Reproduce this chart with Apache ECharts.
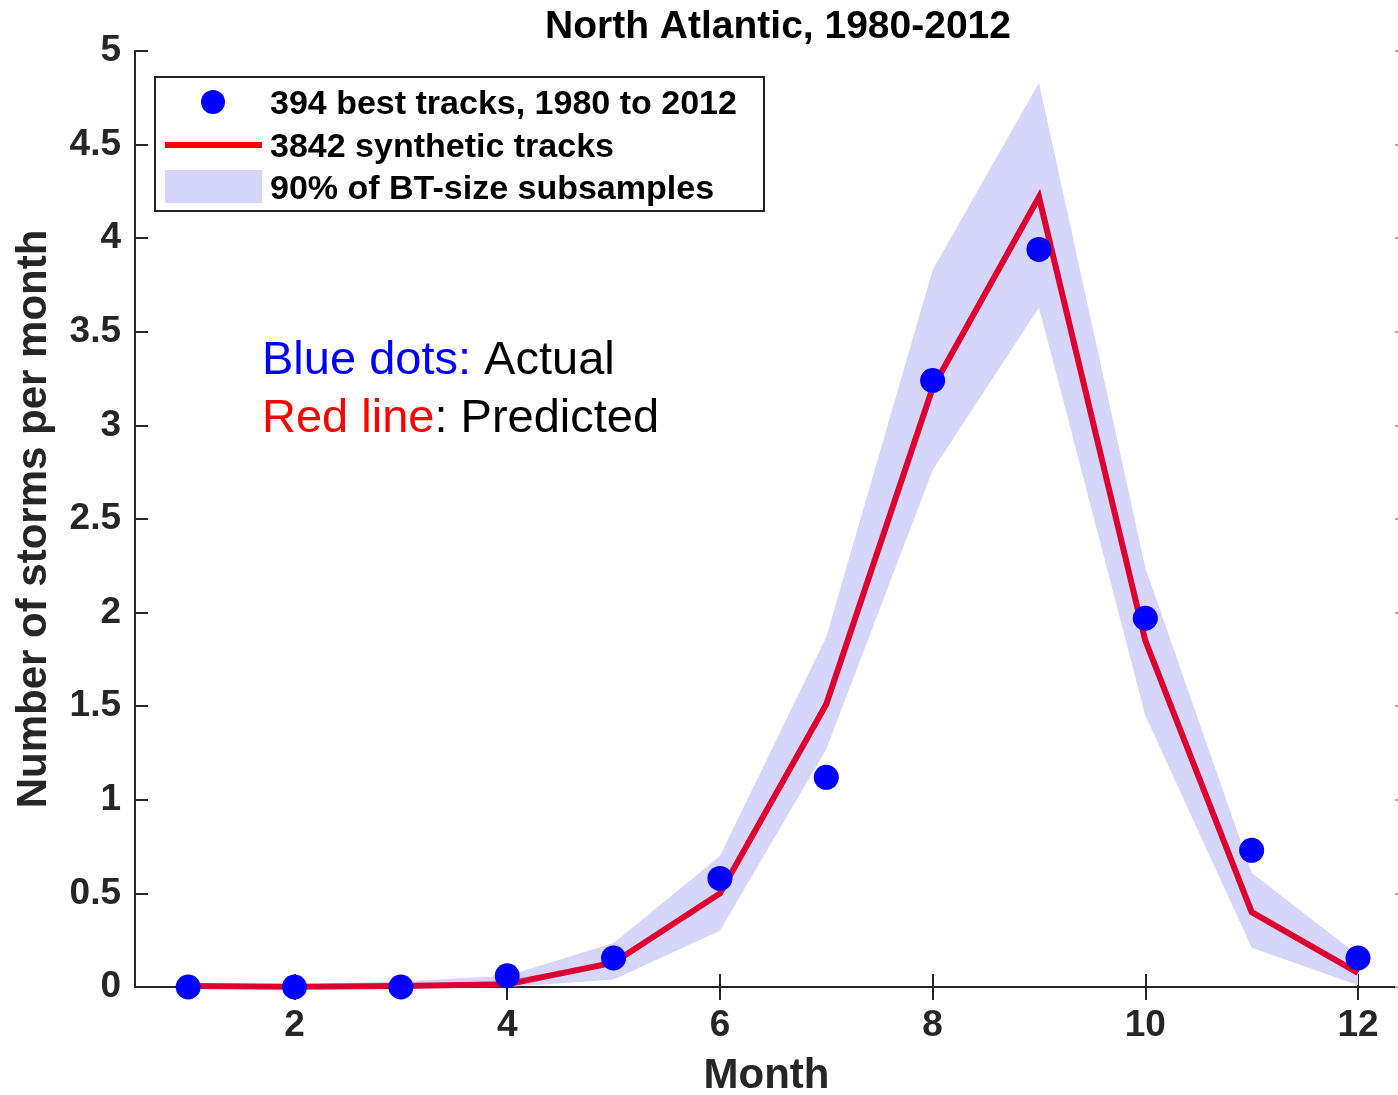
<!DOCTYPE html>
<html>
<head>
<meta charset="utf-8">
<script src="https://cdn.jsdelivr.net/npm/echarts@6/dist/echarts.min.js"></script>
<style>
html,body{margin:0;padding:0;background:#fff;}
#chart{width:1398px;height:1095px;}
</style>
</head>
<body>
<div id="chart"></div>
<script>
// ---- data ----
const months = [1, 2, 3, 4, 5, 6, 7, 8, 9, 10, 11, 12];
const bestTracks = [0, 0, 0, 0.06, 0.155, 0.58, 1.12, 3.24, 3.94, 1.97, 0.73, 0.155];
const syntheticTracks = [0.005, 0.002, 0.005, 0.015, 0.13, 0.50, 1.51, 3.20, 4.22, 1.85, 0.40, 0.075];
const bandLower = [0, 0, 0, 0, 0.04, 0.30, 1.27, 2.76, 3.63, 1.45, 0.21, 0.01];
const bandUpper = [0.015, 0.015, 0.03, 0.06, 0.235, 0.70, 1.87, 3.83, 4.83, 2.24, 0.61, 0.17];
const xTickValues = [2, 4, 6, 8, 10, 12];
const yTickValues = [0, 0.5, 1, 1.5, 2, 2.5, 3, 3.5, 4, 4.5, 5];

const titleText = 'North Atlantic, 1980-2012';
const xName = 'Month';
const yName = 'Number of storms per month';
const legendNames = ['394 best tracks, 1980 to 2012', '3842 synthetic tracks', '90% of BT-size subsamples'];

// ---- build ----
const pairs = (ys) => months.map((m, i) => [m, ys[i]]);
const bandData = months.map((m, i) => [m, bandLower[i], bandUpper[i]]);

const axisColor = '#262626';
const fontFam = '"Liberation Sans", Arial, Helvetica, sans-serif';
const tickLen = 13;
const xMin = 0.5, xMax = 12.376;

const chart = echarts.init(document.getElementById('chart'), null, {renderer: 'canvas'});

function renderBand(params, api) {
  if (params.dataIndex !== 0) return null;
  const pts = [];
  for (let i = 0; i < months.length; i++) pts.push(api.coord([months[i], bandUpper[i]]));
  for (let i = months.length - 1; i >= 0; i--) pts.push(api.coord([months[i], bandLower[i]]));
  return {
    type: 'polygon',
    shape: {points: pts},
    style: {fill: '#d6d6fa', stroke: null}
  };
}

const option = {
  backgroundColor: '#ffffff',
  animation: false,
  title: {
    text: titleText,
    left: 773,
    textAlign: 'center',
    top: 3,
    textStyle: {fontFamily: fontFam, fontWeight: 'bold', fontSize: 39, color: '#000'}
  },
  grid: {left: 135, top: 51, right: 0, bottom: 108, containLabel: false, outerBoundsMode: 'none'},
  xAxis: [
    {
      type: 'value', min: xMin, max: xMax, position: 'bottom',
      name: xName, nameLocation: 'middle', nameGap: 68,
      nameTextStyle: {fontFamily: fontFam, fontWeight: 'bold', fontSize: 42, color: axisColor},
      axisLine: {show: true, lineStyle: {color: axisColor, width: 2}},
      axisTick: {show: true, inside: true, length: tickLen, customValues: xTickValues, lineStyle: {color: axisColor, width: 2}},
      axisLabel: {show: true, customValues: xTickValues, margin: 20, fontFamily: fontFam, fontWeight: 'bold', fontSize: 37, color: axisColor},
      splitLine: {show: false}
    },
    {
      type: 'value', min: xMin, max: xMax, position: 'top',
      axisLine: {show: true, lineStyle: {color: axisColor, width: 2}},
      axisTick: {show: true, inside: true, length: tickLen, customValues: xTickValues, lineStyle: {color: axisColor, width: 2}},
      axisLabel: {show: false},
      splitLine: {show: false}
    }
  ],
  yAxis: [
    {
      type: 'value', min: 0, max: 5, interval: 0.5, position: 'left',
      name: yName, nameLocation: 'middle', nameGap: 80,
      nameTextStyle: {fontFamily: fontFam, fontWeight: 'bold', fontSize: 42, color: axisColor},
      axisLine: {show: true, lineStyle: {color: axisColor, width: 2}},
      axisTick: {show: true, inside: true, length: tickLen, lineStyle: {color: axisColor, width: 2}},
      axisLabel: {show: true, margin: 14, fontFamily: fontFam, fontWeight: 'bold', fontSize: 37, color: axisColor},
      splitLine: {show: false}
    },
    {
      type: 'value', min: 0, max: 5, interval: 0.5, position: 'right',
      axisLine: {show: false},
      axisTick: {show: true, inside: true, length: 3, lineStyle: {color: '#aaa', width: 2}},
      axisLabel: {show: false},
      splitLine: {show: false}
    }
  ],
  series: [
    {
      name: legendNames[2], type: 'custom', data: bandData,
      encode: {x: 0, y: [1, 2]},
      renderItem: renderBand, silent: true, z: 1
    },
    {
      name: legendNames[1], type: 'line', data: pairs(syntheticTracks),
      symbol: 'none', lineStyle: {color: '#dc0030', width: 6, join: 'miter'}, z: 2
    },
    {
      name: legendNames[0], type: 'scatter', data: pairs(bestTracks),
      symbol: 'circle', symbolSize: 25, itemStyle: {color: '#0000ff', opacity: 1}, z: 3
    }
  ],
  graphic: [
    // legend box
    {type: 'rect', shape: {x: 155, y: 77, width: 609, height: 134}, style: {fill: '#fff', stroke: '#222', lineWidth: 2}, z: 10},
    {type: 'circle', shape: {cx: 213, cy: 102, r: 12}, style: {fill: '#0000ff'}, z: 11},
    {type: 'line', shape: {x1: 165, y1: 145, x2: 262, y2: 145}, style: {stroke: '#ff0000', lineWidth: 6}, z: 11},
    {type: 'rect', shape: {x: 165, y: 170, width: 97, height: 33}, style: {fill: '#d6d6fa'}, z: 11},
    {type: 'text', x: 270, y: 105, style: {text: legendNames[0], fill: '#000', font: 'bold 34px ' + fontFam, textVerticalAlign: 'middle'}, z: 11},
    {type: 'text', x: 270, y: 148, style: {text: legendNames[1], fill: '#000', font: 'bold 34px ' + fontFam, textVerticalAlign: 'middle'}, z: 11},
    {type: 'text', x: 270, y: 190, style: {text: legendNames[2], fill: '#000', font: 'bold 34px ' + fontFam, textVerticalAlign: 'middle'}, z: 11},
    // annotation
    {
      type: 'text', x: 262, y: 361, z: 11,
      style: {
        text: '{b|Blue dots:}{k| Actual}',
        textVerticalAlign: 'middle',
        rich: {
          b: {fill: '#0000ff', fontFamily: fontFam, fontSize: 47},
          k: {fill: '#000000', fontFamily: fontFam, fontSize: 47}
        }
      }
    },
    {
      type: 'text', x: 262, y: 419, z: 11,
      style: {
        text: '{r|Red line}{k|: Predicted}',
        textVerticalAlign: 'middle',
        rich: {
          r: {fill: '#ff0000', fontFamily: fontFam, fontSize: 47},
          k: {fill: '#000000', fontFamily: fontFam, fontSize: 47}
        }
      }
    }
  ]
};

chart.setOption(option);
</script>
</body>
</html>
